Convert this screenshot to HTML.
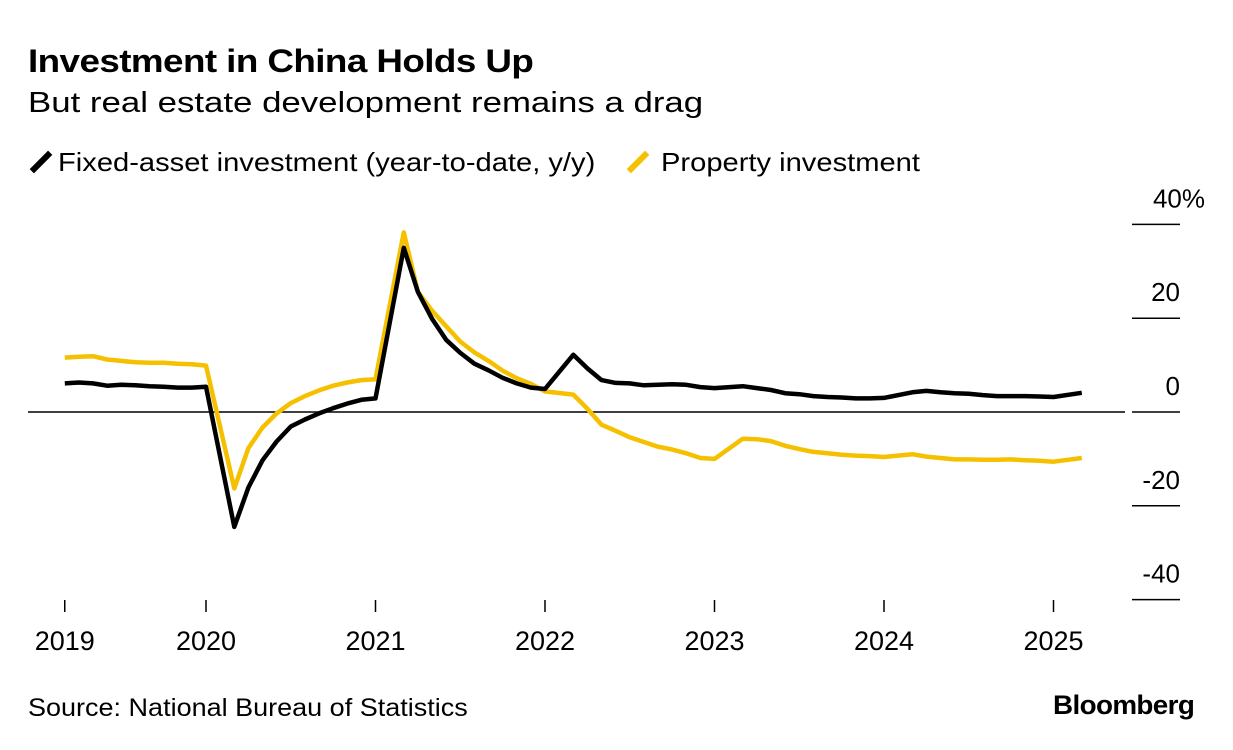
<!DOCTYPE html>
<html><head><meta charset="utf-8"><style>
body{margin:0;background:#fff;font-family:"Liberation Sans",sans-serif;}
#wrap{position:relative;width:1233px;height:750px;overflow:hidden;}
.t{position:absolute;white-space:nowrap;color:#000;transform-origin:0 50%;}
</style></head><body>
<div id="wrap">
<div class="t" style="left:28px;top:43px;font-size:32px;font-weight:bold;letter-spacing:-0.5px;transform:scaleX(1.15)">Investment in China Holds Up</div>
<div class="t" style="left:28px;top:87px;font-size:29px;transform:scaleX(1.2)">But real estate development remains a drag</div>
<div class="t" style="left:30px;top:147px;font-size:26px"><span style="display:inline-block;width:6px;height:26px;background:#000;transform:rotate(45deg);vertical-align:-4px;margin:0 14px 0 8px"></span><span style="display:inline-block;transform:scaleX(1.12);transform-origin:0 50%">Fixed-asset investment (year-to-date, y/y)</span></div>
<div class="t" style="left:627px;top:147px;font-size:26px"><span style="display:inline-block;width:6px;height:26px;background:#f5c000;transform:rotate(45deg);vertical-align:-4px;margin:0 14px 0 8px"></span><span style="display:inline-block;transform:scaleX(1.12);transform-origin:0 50%;margin-left:6px">Property investment</span></div>
<svg id="chart" width="1233" height="750" style="position:absolute;left:0;top:0"></svg>
<div class="t" style="left:28px;top:694px;font-size:25px;transform:scaleX(1.08)">Source: National Bureau of Statistics</div>
<div class="t" style="left:1053px;top:690px;font-size:27px;font-weight:bold;letter-spacing:-0.6px;transform:scaleX(1.03)">Bloomberg</div>
</div>
<script>
const years=[2019,2020,2021,2022,2023,2024,2025];
const months=[2,3,4,5,6,7,8,9,10,11,12];
const fai=[6.1,6.3,6.1,5.6,5.8,5.7,5.5,5.4,5.2,5.2,5.4,
-24.5,-16.1,-10.3,-6.3,-3.1,-1.6,-0.3,0.8,1.8,2.6,2.9,
35.0,25.6,19.9,15.4,12.6,10.3,8.9,7.3,6.1,5.2,4.9,
12.2,9.3,6.8,6.2,6.1,5.7,5.8,5.9,5.8,5.3,5.1,
5.5,5.1,4.7,4.0,3.8,3.4,3.2,3.1,2.9,2.9,3.0,
4.2,4.5,4.2,4.0,3.9,3.6,3.4,3.4,3.4,3.3,3.2,
4.1];
const property=[11.6,11.8,11.9,11.2,10.9,10.6,10.5,10.5,10.3,10.2,9.9,
-16.3,-7.7,-3.3,-0.3,1.9,3.4,4.6,5.6,6.3,6.8,7.0,
38.3,25.6,21.6,18.3,15.0,12.7,10.9,8.8,7.2,6.0,4.4,
3.7,0.7,-2.7,-4.0,-5.4,-6.4,-7.4,-8.0,-8.8,-9.8,-10.0,
-5.7,-5.8,-6.2,-7.2,-7.9,-8.5,-8.8,-9.1,-9.3,-9.4,-9.6,
-9.0,-9.5,-9.8,-10.1,-10.1,-10.2,-10.2,-10.1,-10.3,-10.4,-10.6,
-9.8];
const yTicks=[40,20,0,-20,-40];
const yTickLabels=["40%","20","0","-20","-40"];
const dates=[];
years.forEach(y=>months.forEach(m=>{if(y<2025||m===2)dates.push(y+m/12);}));
const x=t=>206+(t-2020)*169.5;
const y=v=>412-v*4.69;
const svg=document.getElementById('chart');
const NS='http://www.w3.org/2000/svg';
function mk(tag,attrs){const e=document.createElementNS(NS,tag);for(const k in attrs)e.setAttribute(k,attrs[k]);svg.appendChild(e);return e;}
yTicks.forEach((v,i)=>{
  const l=mk('line',{x1:1132,x2:1180,y1:y(v),y2:y(v),stroke:'#000','stroke-width':1.5});
  
  
  const lab=yTickLabels[i];
  const xe=lab.endsWith('%')?1205:1180;
  const t=mk('text',{x:xe,y:y(v)-17,'text-anchor':'end','font-size':26,'font-family':'Liberation Sans, sans-serif'});
  t.textContent=lab;
  
  
});
const zl=mk('line',{x1:28,x2:1125,y1:y(0),y2:y(0),stroke:'#000','stroke-width':1.5});


const minD=dates[0];
years.forEach(yr=>{
  const xx=x(Math.max(yr,minD));
  const l=mk('line',{x1:xx,x2:xx,y1:600,y2:612,stroke:'#000','stroke-width':1.5});
  
  
  const t=mk('text',{x:xx,y:650,'text-anchor':'middle','font-size':27,'font-family':'Liberation Sans, sans-serif'});
  t.textContent=yr;
  
  
});
function line(vals,color,name){
  const d=vals.map((v,i)=>(i?'L':'M')+x(dates[i]).toFixed(1)+','+y(v).toFixed(1)).join('');
  const p=mk('path',{d:d,fill:'none',stroke:color,'stroke-width':4.5,'stroke-linejoin':'round'});
  
  
}
line(property,'#f5c000','property-investment-line');
line(fai,'#000','fixed-asset-investment-line');
</script>
</body></html>
